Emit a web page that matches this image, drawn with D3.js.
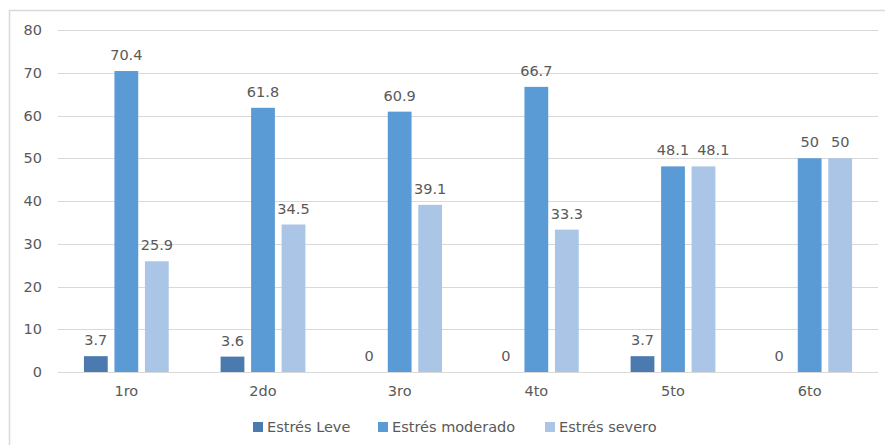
<!DOCTYPE html>
<html>
<head>
<meta charset="utf-8">
<script src="https://cdn.jsdelivr.net/npm/d3@7"></script>
<style>
  html, body { margin: 0; padding: 0; background: #fff; }
  svg { display: block; }
  text { font-family: "DejaVu Sans", sans-serif; fill: #595959; }
</style>
</head>
<body>
<svg id="chart" width="885" height="445"></svg>
<script>
const categories = ["1ro", "2do", "3ro", "4to", "5to", "6to"];
const seriesNames = ["Estrés Leve", "Estrés moderado", "Estrés severo"];
const leve = [3.7, 3.6, 0, 0, 3.7, 0];
const moderado = [70.4, 61.8, 60.9, 66.7, 48.1, 50];
const severo = [25.9, 34.5, 39.1, 33.3, 48.1, 50];
const yTicks = [0, 10, 20, 30, 40, 50, 60, 70, 80];
const colors = ["#4a7aae", "#5b9bd5", "#abc5e6"];

const seriesValues = [leve, moderado, severo];
const FS = 14.5;
const svg = d3.select("#chart");

// frame
svg.append("rect")
  .attr("x", 9.5).attr("y", 10.5)
  .attr("width", 1000).attr("height", 1000)
  .attr("fill", "none").attr("stroke", "#d9d9d9").attr("stroke-width", 1.5);

const mLeft = 58, mRight = 878, mTop = 30, mBottom = 372;

const y = d3.scaleLinear().domain([0, 80]).range([mBottom, mTop]);
const x0 = d3.scaleBand().domain(categories).range([mLeft, mRight]).padding(0);
const x1 = d3.scaleBand().domain(seriesNames).range([0, x0.bandwidth()])
  .paddingInner(0.22).paddingOuter(0.85);

// gridlines
svg.append("g").selectAll("line").data(yTicks).join("line")
  .attr("x1", mLeft).attr("x2", mRight)
  .attr("y1", d => Math.round(y(d)) + 0.5).attr("y2", d => Math.round(y(d)) + 0.5)
  .attr("stroke", "#d9d9d9").attr("stroke-width", 1);

// y axis labels
const yAxis = d3.axisLeft(y).tickValues(yTicks).tickSize(0).tickPadding(0);
const yg = svg.append("g").attr("transform", `translate(${mLeft - 16},0)`).call(yAxis);
yg.select(".domain").remove();
yg.selectAll("text").attr("font-size", FS).attr("fill", "#595959")
  .style("font-family", "DejaVu Sans, sans-serif");

// x axis labels
const xAxis = d3.axisBottom(x0).tickSize(0).tickPadding(0);
const xg = svg.append("g").attr("transform", `translate(0,${mBottom + 14})`).call(xAxis);
xg.select(".domain").remove();
xg.selectAll("text").attr("font-size", FS).attr("fill", "#595959")
  .style("font-family", "DejaVu Sans, sans-serif");

// bars
const data = [];
categories.forEach((c, i) => {
  seriesNames.forEach((s, j) => {
    data.push({ cat: c, ser: s, v: seriesValues[j][i], color: colors[j] });
  });
});

svg.append("g").selectAll("rect").data(data).join("rect")
  .attr("x", d => x0(d.cat) + x1(d.ser))
  .attr("width", x1.bandwidth())
  .attr("y", d => y(d.v))
  .attr("height", d => y(0) - y(d.v))
  .attr("fill", d => d.color);

// data labels
const labels = svg.append("g").selectAll("text").data(data).join("text")
  .attr("x", d => x0(d.cat) + x1(d.ser) + x1.bandwidth() / 2)
  .attr("y", d => y(d.v) - 11)
  .attr("text-anchor", "middle")
  .attr("font-size", FS)
  .text(d => d.v);

// simple overlap avoidance: shift a label right if it collides with the previous one
let prev = null;
labels.each(function(d) {
  const bb = this.getBBox();
  if (prev && prev.cat === d.cat) {
    const pb = prev.bb;
    const vOverlap = !(bb.y > pb.y + pb.height || bb.y + bb.height < pb.y);
    if (vOverlap && bb.x < pb.x + pb.width + 8) {
      const shift = pb.x + pb.width + 8 - bb.x;
      d3.select(this).attr("x", +d3.select(this).attr("x") + shift);
      bb.x += shift;
    }
  }
  prev = { cat: d.cat, bb: { x: bb.x, y: bb.y, width: bb.width, height: bb.height } };
});

// legend
const legendX = [253, 378, 545];
const lg = svg.append("g");
seriesNames.forEach((s, j) => {
  lg.append("rect").attr("x", legendX[j]).attr("y", 422)
    .attr("width", 10).attr("height", 10).attr("fill", colors[j]);
  lg.append("text").attr("x", legendX[j] + 14).attr("y", 432)
    .attr("font-size", FS).text(s);
});
</script>
</body>
</html>
